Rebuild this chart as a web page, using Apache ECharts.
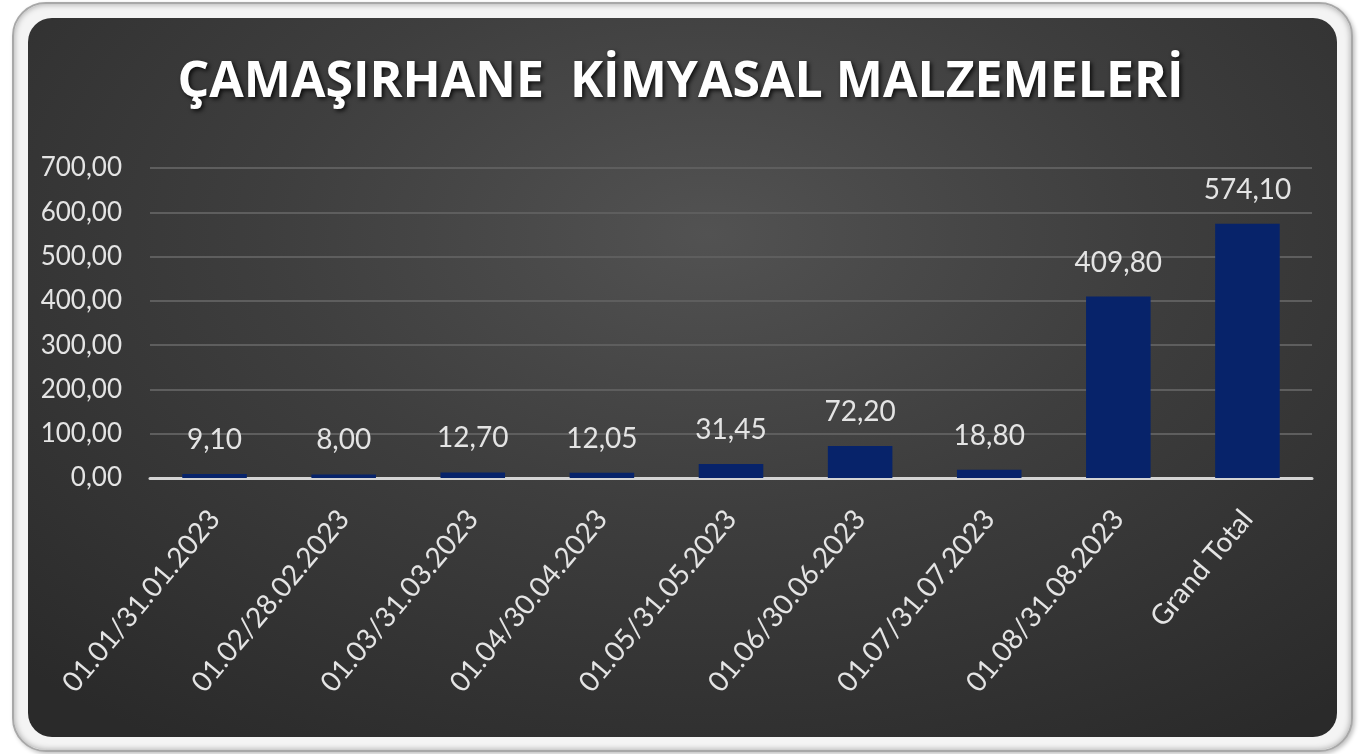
<!DOCTYPE html>
<html>
<head>
<meta charset="utf-8">
<script src="https://cdn.jsdelivr.net/npm/echarts@6/dist/echarts.min.js"></script>
<style>
  html, body { margin: 0; padding: 0; background: #ffffff; }
  #frame {
    position: absolute; left: 12px; top: 2px; width: 1337px; height: 746px;
    border-radius: 34px; background: #f4f4f4;
    border: 2px solid #a8a8a8;
    box-shadow: inset 0 0 6px rgba(0,0,0,0.35), 2px 2px 4px rgba(0,0,0,0.25);
  }
  #panel {
    position: absolute; left: 28px; top: 18px; width: 1309px; height: 719px;
    border-radius: 24px;
    background: radial-gradient(ellipse 75% 85% at 52% 30%, #525252 0%, #3e3e3e 45%, #2a2a2a 100%);
  }
  #chart { position: absolute; left: 0; top: 0; width: 1361px; height: 754px; }
</style>
</head>
<body>
<div id="frame"></div>
<div id="panel"></div>
<div id="chart"></div>
<script>
const categories = [
  '01.01/31.01.2023', '01.02/28.02.2023', '01.03/31.03.2023',
  '01.04/30.04.2023', '01.05/31.05.2023', '01.06/30.06.2023',
  '01.07/31.07.2023', '01.08/31.08.2023', 'Grand Total'
]
const values = [9.10, 8.00, 12.70, 12.05, 31.45, 72.20, 18.80, 409.80, 574.10]
const yTicks = [0, 100, 200, 300, 400, 500, 600, 700]

const fmt = v => Number(v).toFixed(2).replace('.', ',')
const labelColor = '#e4e4e4'
const font = 'Lato, "Open Sans", sans-serif'

const chart = echarts.init(document.getElementById('chart'))
chart.setOption({
  backgroundColor: 'transparent',
  title: {
    text: 'ÇAMAŞIRHANE  KİMYASAL MALZEMELERİ',
    left: 'center',
    top: 53,
    textStyle: {
      color: '#ffffff',
      fontFamily: '"Open Sans", sans-serif',
      fontWeight: 'bold',
      fontSize: 50,
      textShadowColor: 'rgba(0,0,0,0.8)',
      textShadowBlur: 4,
      textShadowOffsetX: 2,
      textShadowOffsetY: 2
    }
  },
  grid: {
    left: 150,
    right: 49,
    top: 168,
    bottom: 276
  },
  xAxis: {
    type: 'category',
    data: categories,
    axisLine: {
      lineStyle: { color: '#d4d4d4', width: 3 }
    },
    axisTick: { show: false },
    axisLabel: {
      rotate: 50,
      margin: 36,
      color: labelColor,
      fontFamily: font,
      fontSize: 28,
      interval: 0
    }
  },
  yAxis: {
    type: 'value',
    min: yTicks[0],
    max: yTicks[yTicks.length - 1],
    interval: 100,
    axisLine: { show: false },
    axisTick: { show: false },
    axisLabel: {
      margin: 28,
      color: labelColor,
      fontFamily: font,
      fontSize: 26,
      formatter: fmt
    },
    splitLine: {
      lineStyle: { color: '#5e5e5e', width: 2 }
    }
  },
  series: [
    {
      type: 'bar',
      data: values,
      barWidth: '50%',
      itemStyle: { color: '#07236a' },
      label: {
        show: true,
        position: 'top',
        distance: 20,
        color: labelColor,
        fontFamily: font,
        fontSize: 28,
        formatter: p => fmt(p.value)
      }
    }
  ]
})
</script>
</body>
</html>
